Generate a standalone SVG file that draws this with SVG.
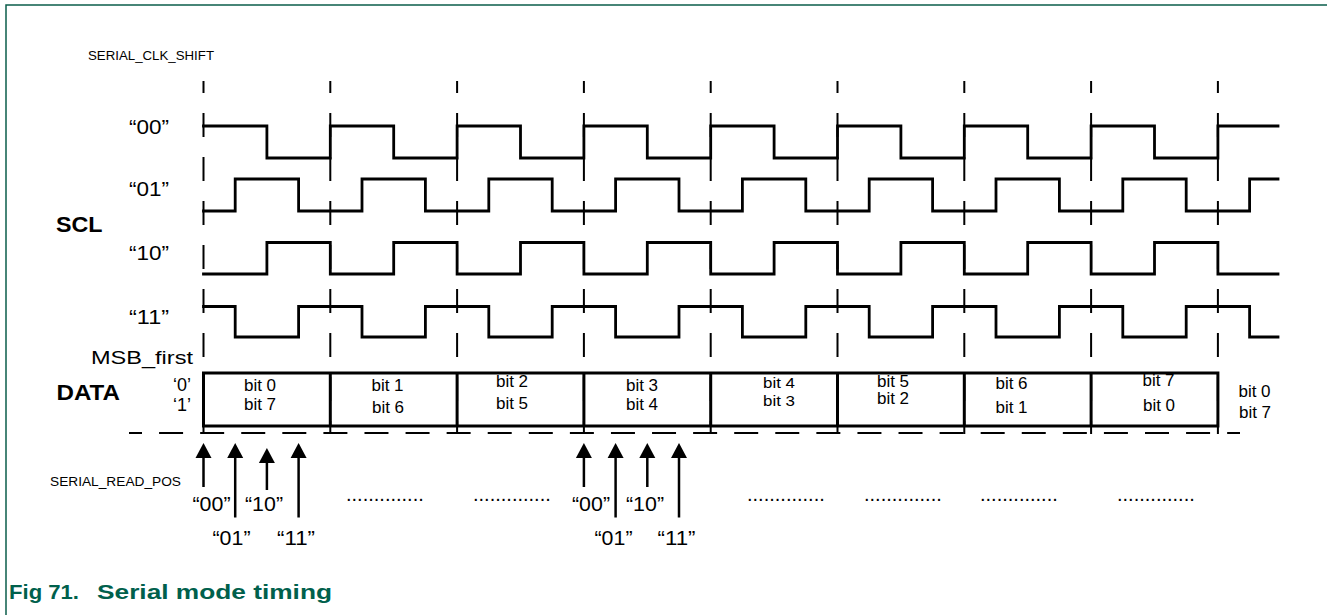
<svg xmlns="http://www.w3.org/2000/svg" xmlns:xlink="http://www.w3.org/1999/xlink" width="1327" height="615" viewBox="0 0 1327 615">
  <style>
    .t { font-family: "Liberation Sans", Arial, sans-serif; fill: #000; }
    .sm { font-size: 12.5px; }
    .q { font-size: 19.5px; }
    .big { font-size: 22px; font-weight: bold; }
    .lbl { font-size: 17.5px; }
    .bit { font-size: 17px; text-anchor: middle; }
    .tight { font-size: 15.5px; }
    .dots { font-size: 20px; }
    .cap { font-family: "Liberation Sans", Arial, sans-serif; font-size: 20px; font-weight: bold; fill: #00604c; }
    .wave { fill: none; stroke: #000; stroke-width: 2.8; stroke-linejoin: miter; stroke-linecap: square; }
    .vdash { stroke: #000; stroke-width: 2; stroke-dasharray: 24 20; stroke-dashoffset: 12; }
    .hdash { stroke: #000; stroke-width: 2; stroke-dasharray: 24 17.08; stroke-dashoffset: 11; }
    .box { fill: none; stroke: #000; stroke-width: 3; }
    .shaft { stroke: #000; stroke-width: 2.5; }
    .frame { fill: none; stroke: #0b5e4b; stroke-width: 1.5; }
  </style>
  <defs>
    <path id="head" d="M0,0 L-8,15 L8,15 Z" fill="#000"/>
  </defs>

  <rect x="0" y="0" width="1327" height="615" fill="#fff"/>
  <path class="frame" d="M6,615 V5 H1327"/>

  <g id="labels-left">
    <text class="t sm" x="88" y="60" textLength="126" lengthAdjust="spacingAndGlyphs">SERIAL_CLK_SHIFT</text>
    <text class="t q" x="129" y="133.5" textLength="40" lengthAdjust="spacingAndGlyphs">“00”</text>
    <text class="t q" x="129" y="196" textLength="40" lengthAdjust="spacingAndGlyphs">“01”</text>
    <text class="t big" x="56" y="231.5" textLength="46.5" lengthAdjust="spacingAndGlyphs">SCL</text>
    <text class="t q" x="129" y="260" textLength="40" lengthAdjust="spacingAndGlyphs">“10”</text>
    <text class="t q" x="129" y="323.5" textLength="40" lengthAdjust="spacingAndGlyphs">“11”</text>
    <text class="t lbl" x="91" y="364" textLength="102" lengthAdjust="spacingAndGlyphs">MSB_first</text>
    <text class="t big" x="56.5" y="400" textLength="63.5" lengthAdjust="spacingAndGlyphs">DATA</text>
    <text class="t lbl" x="173" y="390.5" textLength="18" lengthAdjust="spacingAndGlyphs">‘0’</text>
    <text class="t lbl" x="173" y="411" textLength="18" lengthAdjust="spacingAndGlyphs">‘1’</text>
  </g>

  <g id="grid">
    <line class="vdash" x1="203.5" y1="81" x2="203.5" y2="434"/>
    <line class="vdash" x1="330.3" y1="81" x2="330.3" y2="434"/>
    <line class="vdash" x1="457.1" y1="81" x2="457.1" y2="434"/>
    <line class="vdash" x1="583.9" y1="81" x2="583.9" y2="434"/>
    <line class="vdash" x1="710.7" y1="81" x2="710.7" y2="434"/>
    <line class="vdash" x1="837.5" y1="81" x2="837.5" y2="434"/>
    <line class="vdash" x1="964.3" y1="81" x2="964.3" y2="434"/>
    <line class="vdash" x1="1091.1" y1="81" x2="1091.1" y2="434"/>
    <line class="vdash" x1="1217.9" y1="81" x2="1217.9" y2="434"/>
    <line class="hdash" x1="129" y1="433" x2="1240" y2="433"/>
  </g>

  <g id="waveforms">
    <path id="w00" class="wave" d="M203.5,126 H266.9 V158 H330.3 V126 H393.7 V158 H457.1 V126 H520.5 V158 H583.9 V126 H647.3 V158 H710.7 V126 H774.1 V158 H837.5 V126 H900.9 V158 H964.3 V126 H1027.7 V158 H1091.1 V126 H1154.5 V158 H1217.9 V126 H1278"/>
    <path id="w01" class="wave" d="M203.5,211 H235.2 V179 H298.6 V211 H362 V179 H425.4 V211 H488.8 V179 H552.2 V211 H615.6 V179 H679 V211 H742.4 V179 H805.8 V211 H869.2 V179 H932.6 V211 H996 V179 H1059.4 V211 H1122.8 V179 H1186.2 V211 H1249.6 V179 H1278"/>
    <path id="w10" class="wave" d="M203.5,274 H266.9 V242.5 H330.3 V274 H393.7 V242.5 H457.1 V274 H520.5 V242.5 H583.9 V274 H647.3 V242.5 H710.7 V274 H774.1 V242.5 H837.5 V274 H900.9 V242.5 H964.3 V274 H1027.7 V242.5 H1091.1 V274 H1154.5 V242.5 H1217.9 V274 H1278"/>
    <path id="w11" class="wave" d="M203.5,306.5 H235.2 V337 H298.6 V306.5 H362 V337 H425.4 V306.5 H488.8 V337 H552.2 V306.5 H615.6 V337 H679 V306.5 H742.4 V337 H805.8 V306.5 H869.2 V337 H932.6 V306.5 H996 V337 H1059.4 V306.5 H1122.8 V337 H1186.2 V306.5 H1249.6 V337 H1278"/>
  </g>

  <g id="data">
    <rect class="box" x="203.5" y="373" width="1014.4" height="53"/>
    <line class="box" x1="330.3" y1="373" x2="330.3" y2="426"/>
    <line class="box" x1="457.1" y1="373" x2="457.1" y2="426"/>
    <line class="box" x1="583.9" y1="373" x2="583.9" y2="426"/>
    <line class="box" x1="710.7" y1="373" x2="710.7" y2="426"/>
    <line class="box" x1="837.5" y1="373" x2="837.5" y2="426"/>
    <line class="box" x1="964.3" y1="373" x2="964.3" y2="426"/>
    <line class="box" x1="1091.1" y1="373" x2="1091.1" y2="426"/>
    <text class="t bit" x="260" y="390.5">bit 0</text>
    <text class="t bit" x="260" y="410">bit 7</text>
    <text class="t bit" x="387.5" y="390.5">bit 1</text>
    <text class="t bit" x="388" y="413">bit 6</text>
    <text class="t bit" x="512" y="386.5">bit 2</text>
    <text class="t bit" x="512" y="408.5">bit 5</text>
    <text class="t bit" x="642" y="391">bit 3</text>
    <text class="t bit" x="642" y="410">bit 4</text>
    <text class="t bit tight" x="779" y="388" textLength="32" lengthAdjust="spacingAndGlyphs">bit 4</text>
    <text class="t bit tight" x="779" y="405.5" textLength="32" lengthAdjust="spacingAndGlyphs">bit 3</text>
    <text class="t bit" x="893" y="386.5">bit 5</text>
    <text class="t bit" x="893" y="403.5">bit 2</text>
    <text class="t bit" x="1011.5" y="389">bit 6</text>
    <text class="t bit" x="1011.5" y="413">bit 1</text>
    <text class="t bit" x="1158.5" y="386">bit 7</text>
    <text class="t bit" x="1159" y="410.5">bit 0</text>
    <text class="t bit" x="1254.5" y="396.5">bit 0</text>
    <text class="t bit" x="1255" y="417.5">bit 7</text>
  </g>

  <g id="read-pos">
    <text class="t sm" x="50" y="485.5" textLength="131" lengthAdjust="spacingAndGlyphs">SERIAL_READ_POS</text>
    <g id="arrows">
      <use xlink:href="#head" x="203.5" y="443"/>
      <line class="shaft" x1="203.5" y1="457" x2="203.5" y2="487"/>
      <use xlink:href="#head" x="235.2" y="443"/>
      <line class="shaft" x1="235.2" y1="457" x2="235.2" y2="517.5"/>
      <use xlink:href="#head" x="266.9" y="448"/>
      <line class="shaft" x1="266.9" y1="462" x2="266.9" y2="490"/>
      <use xlink:href="#head" x="298.6" y="443"/>
      <line class="shaft" x1="298.6" y1="457" x2="298.6" y2="517.5"/>
      <use xlink:href="#head" x="583.9" y="443"/>
      <line class="shaft" x1="583.9" y1="457" x2="583.9" y2="487"/>
      <use xlink:href="#head" x="615.6" y="443"/>
      <line class="shaft" x1="615.6" y1="457" x2="615.6" y2="517.5"/>
      <use xlink:href="#head" x="647.3" y="443"/>
      <line class="shaft" x1="647.3" y1="457" x2="647.3" y2="487"/>
      <use xlink:href="#head" x="679" y="443"/>
      <line class="shaft" x1="679" y1="457" x2="679" y2="517.5"/>
    </g>
    <text class="t q" x="192.5" y="511" textLength="38" lengthAdjust="spacingAndGlyphs">“00”</text>
    <text class="t q" x="245" y="511" textLength="38" lengthAdjust="spacingAndGlyphs">“10”</text>
    <text class="t q" x="212.5" y="544.5" textLength="38" lengthAdjust="spacingAndGlyphs">“01”</text>
    <text class="t q" x="277" y="544.5" textLength="38" lengthAdjust="spacingAndGlyphs">“11”</text>
    <text class="t q" x="572" y="510.5" textLength="38" lengthAdjust="spacingAndGlyphs">“00”</text>
    <text class="t q" x="626" y="510.5" textLength="38" lengthAdjust="spacingAndGlyphs">“10”</text>
    <text class="t q" x="594.5" y="544.5" textLength="38" lengthAdjust="spacingAndGlyphs">“01”</text>
    <text class="t q" x="657.5" y="544.5" textLength="38" lengthAdjust="spacingAndGlyphs">“11”</text>
    <text class="t dots" x="346" y="501">..............</text>
    <text class="t dots" x="473" y="501">..............</text>
    <text class="t dots" x="747" y="501">..............</text>
    <text class="t dots" x="864" y="501">..............</text>
    <text class="t dots" x="980" y="501">..............</text>
    <text class="t dots" x="1117" y="501">..............</text>
  </g>

  <g id="caption">
    <text class="cap" x="9" y="599" textLength="70" lengthAdjust="spacingAndGlyphs">Fig 71.</text>
    <text class="cap" x="97" y="599" textLength="235" lengthAdjust="spacingAndGlyphs">Serial mode timing</text>
  </g>
</svg>
